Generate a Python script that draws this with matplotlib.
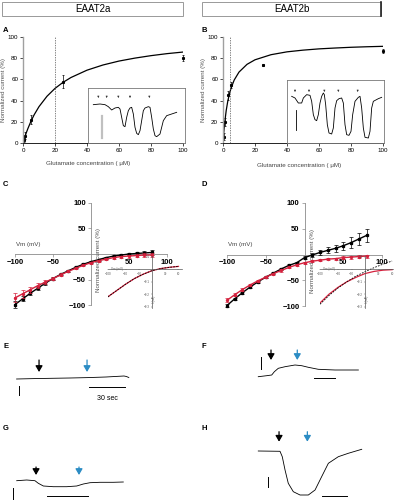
import numpy as np
import matplotlib
matplotlib.use('Agg')
import matplotlib.pyplot as plt
from matplotlib.patches import Rectangle

plt.rcParams['font.family'] = ['Liberation Sans', 'DejaVu Sans']

W, H = 395, 500
RED = '#d4213d'
BLUE = '#2b8cc4'
GREY = '#8a8a8a'

# --- A / B : glutamate dose response ---
glu_a = [0.5, 1, 5, 25, 100]
cur_a = [3, 7, 22, 58, 80]
err_a = [2, 3, 4, 6, 3]
fit_a_x = [0, 1, 2, 3, 5, 7, 10, 15, 20, 25, 30, 40, 50, 60, 70, 80, 90, 100]
fit_a_y = [0, 4.9, 9.4, 13.4, 20.6, 26.7, 34.3, 44.1, 51.5, 57.2, 61.8, 68.7, 73.6, 77.3, 80.1, 82.4, 84.3, 85.8]
km_a = 20

glu_b = [0.5, 1, 3, 5, 25, 100]
cur_b = [6, 20, 45, 55, 74, 87]
err_b = [3, 4, 4, 3, 1, 2]
fit_b_x = [0, 0.5, 1, 2, 3, 4, 5, 7, 10, 15, 20, 30, 40, 50, 60, 70, 80, 90, 100]
fit_b_y = [0, 10.1, 18.3, 30.6, 39.6, 46.3, 51.6, 59.4, 66.9, 74.2, 78.5, 83.3, 86.0, 87.6, 88.8, 89.6, 90.3, 90.8, 91.2]
km_b = 4.2

# inset current traces (arbitrary units)
ins_a_t = [25, 45, 60, 70, 80, 90, 100, 105, 110, 115, 120, 125, 130, 135, 140, 145, 150, 155, 160, 165,
           170, 175, 180, 190, 195, 200, 205, 210, 215, 225, 235, 245, 260, 275]
ins_a_i = [-62, -60, -62, -68, -78, -72, -70, -75, -100, -125, -128, -100, -80, -72, -70, -90, -130, -148, -152, -140,
           -110, -80, -72, -68, -70, -100, -135, -155, -158, -150, -110, -95, -90, -85]
ins_a_arrows = [40, 65, 100, 135, 193]

ins_b_t = [20, 30, 40, 50, 55, 65, 75, 80, 85, 90, 95, 100, 105, 110, 115, 118, 122, 127, 132, 140, 145, 150,
           155, 162, 170, 175, 180, 185, 192, 198, 203, 210, 220, 225, 230, 235, 240, 250, 255, 260, 265, 280, 290]
ins_b_i = [-55, -60, -75, -75, -60, -50, -52, -70, -110, -125, -128, -110, -75, -55, -45, -50, -80, -140, -165, -168,
           -150, -90, -68, -62, -60, -75, -140, -170, -172, -160, -110, -70, -58, -55, -90, -150, -178, -180, -160,
           -90, -70, -62, -58]
ins_b_arrows = [30, 72, 118, 160, 218]

# --- C / D : I-V relations ---
vm = [-100, -90, -80, -70, -60, -50, -40, -30, -20, -10, 0, 10, 20, 30, 40, 50, 60, 70, 80]
c_black = [-99, -88, -77, -67, -57, -48, -40, -33, -26, -20, -15, -11, -7, -4, -2, 0, 1, 2, 3]
c_black_err = [6, 5, 4, 3, 3, 2, 2, 2, 2, 2, 2, 2, 2, 2, 2, 2, 3, 4, 4]
c_red = [-86, -78, -70, -62, -55, -48, -41, -34, -28, -22, -17, -13, -10, -7, -5, -4, -3, -2, -2]
c_red_err = [9, 8, 6, 5, 4, 3, 3, 2, 2, 2, 2, 2, 2, 2, 2, 3, 3, 3, 4]
d_black = [-99, -86, -74, -63, -53, -44, -36, -28, -21, -16, -6, -1, 4, 8, 12, 17, 23, 30, 37]
d_black_err = [2, 2, 2, 2, 2, 2, 2, 2, 2, 2, 3, 4, 5, 6, 7, 8, 10, 11, 12]
d_red = [-89, -78, -68, -59, -51, -44, -37, -31, -25, -20, -16, -13, -11, -9, -8, -6, -5, -4, -3]
d_red_err = [4, 3, 3, 2, 2, 2, 2, 2, 2, 2, 2, 2, 2, 2, 2, 3, 3, 3, 3]
iv_ticks = [-100, -50, 50, 100]

ins_vm = [-100, -80, -60, -40, -20, 0, 20, 40, 60]
ins_c_black = [-0.22, -0.17, -0.12, -0.075, -0.04, -0.012, 0.005, 0.015, 0.022]
ins_c_red = [-0.22, -0.17, -0.12, -0.075, -0.04, -0.012, 0.005, 0.015, 0.022]
ins_d_black = [-0.28, -0.21, -0.15, -0.10, -0.055, -0.02, 0.012, 0.04, 0.065]
ins_d_red = [-0.27, -0.20, -0.145, -0.10, -0.065, -0.035, -0.018, -0.008, -0.004]
ins_xticks = [-100, -60, -30, 30, 60]
ins_yticks = [0.1, -0.1, -0.2, -0.3]

# --- E-H : recordings (time in s, current a.u.) ---
e_t = [5.5, 20, 35, 50, 65, 80, 95, 97, 99]
e_i = [-29, -28.6, -28.3, -28, -27.6, -27, -26, -26.5, -27.5]
e_arrows = [24.2, 64.2]
g_t = [5.6, 13.9, 20.8, 23.6, 27.8, 36.1, 47.2, 55.6, 61.1, 66.7, 75, 86.1, 94.4]
g_i = [-25.7, -25, -25.7, -28.3, -31, -31.7, -31.7, -31, -29, -27.7, -27.3, -27.3, -27]
g_arrows = [21.7, 57.5]
f_t = [6.9, 13.9, 18.1, 20.3, 23.6, 29.2, 37.5, 43.1, 48.6, 56.9, 70.8, 90.3]
f_i = [-31.7, -30.7, -30, -26.7, -23.3, -21.7, -20, -20.7, -22.3, -24.3, -25, -25]
f_arrows = [17.5, 39.4]
h_t = [6.9, 25, 26.9, 29.2, 31.9, 36.1, 41.7, 48.6, 54.2, 59.7, 65.3, 73.6, 81.9, 93.1]
h_i = [-26, -26.3, -31.7, -45, -58.3, -66.7, -70, -70, -65, -51.7, -38.3, -31.7, -28.3, -24.3]
h_arrows = [24.2, 47.8]

fig = plt.figure(figsize=(W / 100, H / 100), dpi=100)


def px_axes(x0, y0, x1, y1):
    return fig.add_axes([x0 / W, 1 - y1 / H, (x1 - x0) / W, (y1 - y0) / H])


def ftext(x, y, s, **kw):
    fig.text(x / W, 1 - y / H, s, **kw)


# headers
for x0, x1, name, thick in [(2, 183, 'EAAT2a', False), (202, 381, 'EAAT2b', True)]:
    fig.patches.append(Rectangle((x0 / W, 1 - 15.5 / H), (x1 - x0) / W, 13.5 / H, transform=fig.transFigure,
                                 fill=False, ec='#999999', lw=0.7))
    if thick:
        fig.lines.append(plt.Line2D([x1 / W, x1 / W], [1 - 15.5 / H, 1 - 2 / H], transform=fig.transFigure,
                                    color='#222222', lw=1.2))
    ftext((x0 + x1) / 2, 9, name, ha='center', va='center', fontsize=7)

# panel letters
for x, y, s in [(3, 31, 'A'), (201, 31, 'B'), (3, 185, 'C'), (201, 185, 'D'),
                (3, 347, 'E'), (201, 347, 'F'), (3, 428, 'G'), (201, 428, 'H')]:
    ftext(x, y, s, ha='left', va='center', fontsize=5.5, fontweight='bold')


def dose_panel(box, glu, cur, err, fx, fy, km, ins_box, ins_lim, tt, ti, arrows, bar, bar_col, bar_lw):
    ax = px_axes(*box)
    ax.plot(fx, fy, color='black', lw=0.9)
    ax.errorbar(glu, cur, yerr=err, fmt='s', ms=1.2, color='black', ecolor='black', elinewidth=0.5,
                capsize=1, capthick=0.5, clip_on=False)
    ax.axvline(km, color='#555555', lw=0.5, ls=(0, (2, 1.5)))
    ax.set_xlim(0, 100)
    ax.set_ylim(0, 100)
    ax.set_xticks([0, 20, 40, 60, 80, 100])
    ax.set_yticks([0, 20, 40, 60, 80, 100])
    for s in ['top', 'right']:
        ax.spines[s].set_visible(False)
    ax.spines['bottom'].set_linewidth(0.6)
    ax.spines['left'].set_color('#a0a0a0')
    ax.spines['left'].set_linewidth(1.0)
    ax.tick_params(labelsize=4.5, length=2, width=0.5, pad=1.5)
    ax.set_ylabel('Normalized current (%)', fontsize=4.5, color='#555555', labelpad=1.5)

    ins = px_axes(*ins_box)
    ins.plot(tt, ti, color='black', lw=0.6)
    for a in arrows:
        ins.annotate('', xy=(a, -42), xytext=(a, -28),
                     arrowprops=dict(arrowstyle='-|>', lw=0.4, color='#333333', mutation_scale=2.5))
    ins.plot([bar[0], bar[0]], [bar[1], bar[2]], color=bar_col, lw=bar_lw)
    ins.set_xlim(ins_lim[0], ins_lim[1])
    ins.set_ylim(ins_lim[2], ins_lim[3])
    ins.set_xticks([])
    ins.set_yticks([])
    for s in ins.spines.values():
        s.set_color('#777777')
        s.set_linewidth(0.6)
    ins.patch.set_alpha(0)
    return ax


dose_panel((23, 37, 183, 143), glu_a, cur_a, err_a, fit_a_x, fit_a_y, km_a,
           (88, 88, 185, 143), (9, 300, -177, -12), ins_a_t, ins_a_i, ins_a_arrows,
           (50, -95, -162), '#c0c0c0', 1.6)
dose_panel((223, 37, 383, 143), glu_b, cur_b, err_b, fit_b_x, fit_b_y, km_b,
           (287, 80, 384, 143), (6, 297, -195, -6), ins_b_t, ins_b_i, ins_b_arrows,
           (32, -95, -155), 'black', 0.6)
ftext(88, 163, 'Glutamate concentration ( μM)', ha='center', va='center', fontsize=4.5, color='#444444')
ftext(299, 165, 'Glutamate concentration ( μM)', ha='center', va='center', fontsize=4.5, color='#444444')


def iv_panel(box, black, berr, red, rerr, ins_box, ins_xlim, ib, ir, vm_pos, ylab_pos):
    ax = px_axes(*box)
    ax.plot(vm, black, color='black', lw=1.0, zorder=3)
    ax.errorbar(vm, black, yerr=berr, fmt='s', ms=1.4, color='black', elinewidth=0.5, capsize=1.2,
                capthick=0.5, zorder=3)
    ax.plot(vm, red, color=RED, lw=1.0, zorder=4)
    ax.errorbar(vm, red, yerr=rerr, fmt='o', ms=1.4, color=RED, elinewidth=0.5, capsize=1.2,
                capthick=0.5, zorder=4)
    ax.set_xlim(-105, 105)
    ax.set_ylim(-105, 105)
    ax.spines['left'].set_position(('data', 0))
    ax.spines['bottom'].set_position(('data', 0))
    ax.spines['left'].set_bounds(-100, 100)
    ax.spines['bottom'].set_bounds(-100, 100)
    for s in ['top', 'right']:
        ax.spines[s].set_visible(False)
    for s in ['left', 'bottom']:
        ax.spines[s].set_color(GREY)
        ax.spines[s].set_linewidth(0.6)
    ax.set_xticks(iv_ticks)
    ax.set_yticks(iv_ticks)
    ax.tick_params(labelsize=5.5, length=2, width=0.5, pad=1.5, color=GREY)
    for lab in ax.get_xticklabels() + ax.get_yticklabels():
        lab.set_fontweight('bold')
    ax.patch.set_alpha(0)
    ax.text(vm_pos[0], vm_pos[1], 'Vm (mV)', transform=ax.transAxes, fontsize=4.5, color='#444444',
            ha='left', va='bottom')
    ax.text(ylab_pos[0], ylab_pos[1], 'Normalized current (%)', transform=ax.transAxes, fontsize=4.5,
            color='#555555', rotation=90, ha='left', va='center')

    ins = px_axes(*ins_box)
    ins.plot(ins_vm, ir, color=RED, lw=0.9)
    ins.plot(ins_vm, ib, color='black', lw=0.6, ls=(0, (2, 1.5)))
    ins.set_xlim(*ins_xlim)
    ins.set_ylim(-0.31, 0.105)
    ins.spines['left'].set_position(('data', 0))
    ins.spines['bottom'].set_position(('data', 0))
    for s in ['top', 'right']:
        ins.spines[s].set_visible(False)
    for s in ['left', 'bottom']:
        ins.spines[s].set_color('#555555')
        ins.spines[s].set_linewidth(0.5)
    ins.set_xticks(ins_xticks)
    ins.set_yticks(ins_yticks)
    ins.tick_params(labelsize=2.2, length=1, width=0.3, pad=0.8, colors='#555555')
    ins.patch.set_alpha(0)
    ins.text(0.04, 0.74, 'Vm (mV)', transform=ins.transAxes, fontsize=2.2, color='#555555')
    ins.text(0.0, -0.24, 'I (nA)', fontsize=2.2, color='#555555', rotation=90, ha='left', va='center')


iv_panel((11.2, 200.4, 170.8, 307.6), c_black, c_black_err, c_red, c_red_err,
         (108, 256, 182, 308), (-100, 68), ins_c_black, ins_c_red, (0.03, 0.565), (0.53, 0.44))
iv_panel((223.1, 200.4, 385.9, 308.6), d_black, d_black_err, d_red, d_red_err,
         (320, 256, 393, 308), (-100, 62), ins_d_black, ins_d_red, (0.03, 0.57), (0.535, 0.44))


def trace_panel(box, tt, ti, arrows, arrow_y, vbar, hbar):
    ax = px_axes(*box)
    ax.plot(tt, ti, color='black', lw=0.6)
    for a, col in zip(arrows, ['black', BLUE]):
        ax.annotate('', xy=(a, arrow_y[1]), xytext=(a, arrow_y[0]),
                    arrowprops=dict(arrowstyle='-|>,head_width=0.35,head_length=0.6', lw=0.9, color=col,
                                    mutation_scale=6, shrinkA=0, shrinkB=0))
    ax.plot([vbar[0], vbar[0]], [vbar[1], vbar[2]], color='black', lw=0.7)
    ax.plot([hbar[0], hbar[1]], [hbar[2], hbar[2]], color='black', lw=0.7)
    ax.set_xlim(0, (box[2] - box[0]) / 1.2)
    ax.set_ylim(-(box[3] - box[1]), 0)
    ax.axis('off')
    return ax


ax_e = trace_panel((10, 350, 135, 405), e_t, e_i, e_arrows, (-10, -22), (7.5, -36, -45), (65.8, 95.8, -37))
ax_e.text(80.8, -48, '30 sec', fontsize=5, ha='center', va='center')
trace_panel((10, 455, 135, 500), g_t, g_i, g_arrows, (-12, -20), (2.75, -33, -45), (30.8, 65, -41))
trace_panel((250, 345, 370, 385), f_t, f_i, f_arrows, (-5, -15), (8.9, -11.7, -24.3), (53.6, 70.8, -32.7))
trace_panel((250, 425, 370, 500), h_t, h_i, h_arrows, (-6.7, -16.7), (15.3, -51.7, -61.7), (60.3, 80.6, -71))

fig.savefig('out.png', dpi=100)
